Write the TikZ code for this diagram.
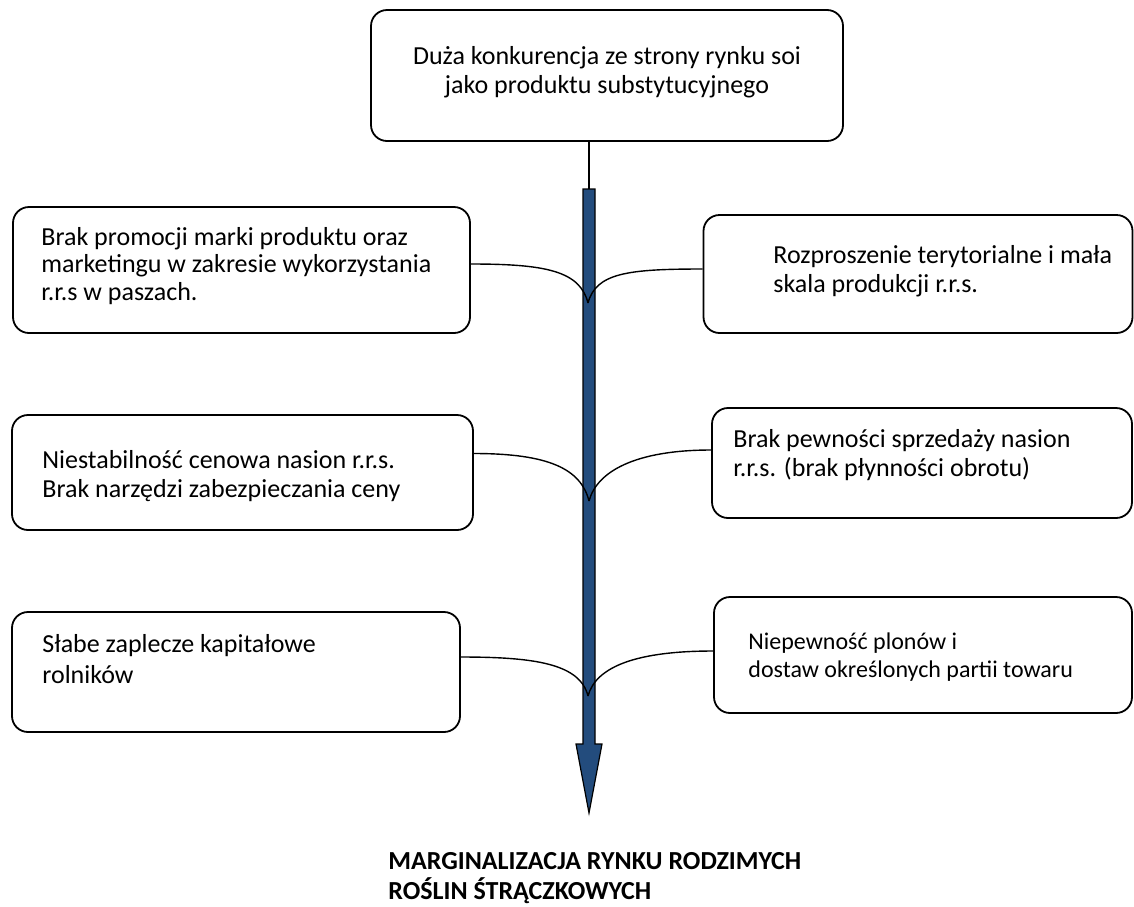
\documentclass[tikz,border=0pt]{standalone}
\usepackage{fontspec}
\setmainfont{Carlito}
\definecolor{ArrowBlue}{RGB}{35,76,125}
\usetikzlibrary{calc}

\begin{document}
\begin{tikzpicture}[x=0.5pt,y=-0.5pt,
  cause/.style={draw,line width=0.9pt,rounded corners=8pt},
  txt/.style={anchor=west,align=left,inner sep=0pt,font=\fontsize{13}{14.25}\selectfont},
  link/.style={line width=0.7pt}]
  \useasboundingbox (0,0) rectangle (1134,906);
  % top box
  \node[cause,minimum width=236pt,minimum height=65.5pt] (top) at (607,75.5) {};
  \node[txt,anchor=center,align=center] (toptxt) at (607,72) {Duża konkurencja ze strony rynku soi\\jako produktu substytucyjnego};
  % left column
  \node[cause,minimum width=228.5pt,minimum height=63pt] (lb1) at (241.5,270) {};
  \node[txt,font=\fontsize{13}{13.9}\selectfont] (lt1) at (41,266) {Brak promocji marki produktu oraz\\marketingu w zakresie wykorzystania\\r.r.s w paszach.};
  \node[cause,minimum width=230.5pt,minimum height=57.5pt] (lb2) at (242.5,472.5) {};
  \node[txt] (lt2) at (42,476) {Niestabilność cenowa nasion r.r.s.\\Brak narzędzi zabezpieczania ceny};
  \node[cause,minimum width=224pt,minimum height=60pt] (lb3) at (236,672) {};
  \node[txt,font=\fontsize{13}{15.5}\selectfont] (lt3) at (42,659) {Słabe zaplecze kapitałowe\\rolników};
  % right column
  \node[cause,minimum width=214.5pt,minimum height=59pt] (rb1) at (918,274) {};
  \node[txt] (rt1) at (773,271) {Rozproszenie terytorialne i mała\\skala produkcji r.r.s.};
  \node[cause,minimum width=210pt,minimum height=55pt] (rb2) at (922,463) {};
  \node[txt] (rt2) at (733,455) {Brak pewności sprzedaży nasion\\r.r.s. (brak płynności obrotu)};
  \node[cause,minimum width=209pt,minimum height=58pt] (rb3) at (923,655) {};
  \node[txt,font=\fontsize{12}{14.25}\selectfont] (rt3) at (748,657) {Niepewność plonów i\\dostaw określonych partii towaru};
  % result
  \node[txt,font=\bfseries\fontsize{13}{15}\selectfont] (result) at (388,878) {MARGINALIZACJA RYNKU RODZIMYCH\\ROŚLIN ŚTRĄCZKOWYCH};

  % main arrow
  \coordinate (s) at (589,189);
  \fill[ArrowBlue,draw=black,line width=0.6pt] (583,189) -- (595,189) -- (595,744) -- (602,744)
    -- (589,813) -- (576,744) -- (583,744) -- cycle;
  \draw[link] (top.south -| s) -- (s);

  % links into the arrow
  \coordinate (c1) at (588,303);
  \coordinate (c2) at (589,501);
  \coordinate (c3) at (588,696);
  \draw[link] ([yshift=3pt]lb1.east) .. controls +(75,0) and +(-8,-32) .. (c1);
  \draw[link] ([yshift=2.5pt]rb1.west) .. controls +(-75,0) and +(8,-30) .. (c1);
  \draw[link] ([yshift=9.5pt]lb2.east) .. controls +(75,0) and +(-8,-32) .. (c2);
  \draw[link] ([yshift=6.5pt]rb2.west) .. controls +(-75,0) and +(8,-30) .. (c2);
  \draw[link] ([yshift=7.5pt]lb3.east) .. controls +(75,0) and +(-8,-32) .. (c3);
  \draw[link] ([yshift=2pt]rb3.west) .. controls +(-75,0) and +(8,-30) .. (c3);
\end{tikzpicture}
\end{document}
